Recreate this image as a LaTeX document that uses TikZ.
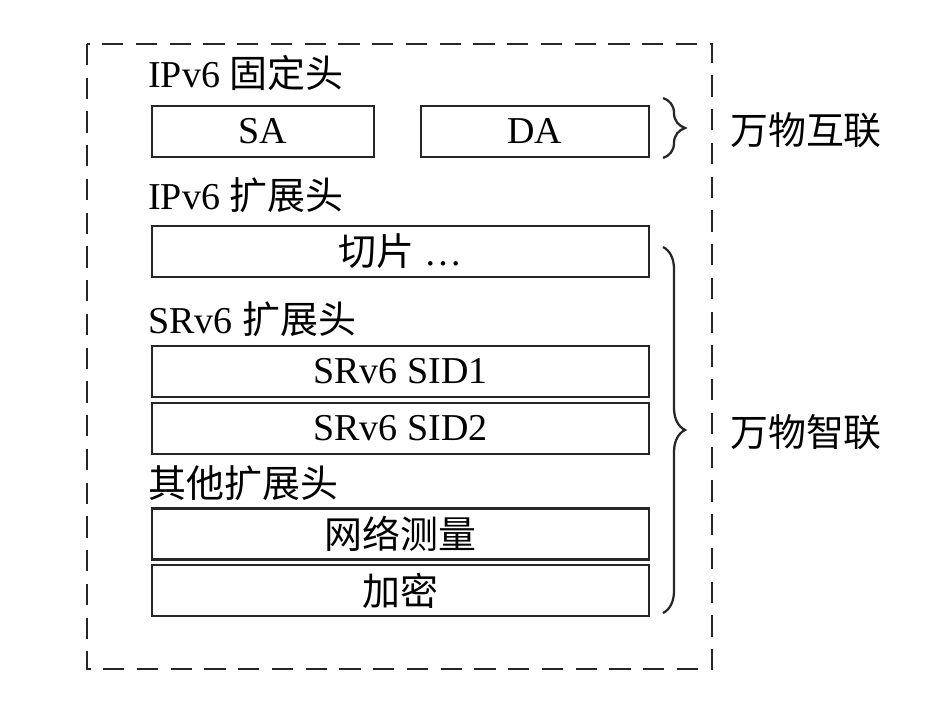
\documentclass[tikz,border=0pt]{standalone}
\usepackage{fontspec}
\setmainfont{Liberation Serif}
\newfontfamily\cjk{Noto Sans CJK SC}
\usetikzlibrary{decorations.pathreplacing}

\tikzstyle{every node}=[font={\fontsize{27}{30}\selectfont}, inner sep=0pt]
\tikzstyle{field}=[draw=black!85, line width=1.9pt, minimum height=1.275cm]
\tikzstyle{hdr}=[anchor=base west]
\tikzstyle{frame}=[draw=black!85, line width=1.7pt, dash pattern=on 15pt off 9pt]
\tikzstyle{curly}=[draw=black!85, line width=1.6pt, decorate, decoration={brace, amplitude=0.55cm}]

\begin{document}
\begin{tikzpicture}[x=0.025cm, y=-0.025cm]
    \useasboundingbox (0,0) rectangle (942,702);
    \draw [frame] (87,44) rectangle (712,669);

    % fixed header
    \node [hdr] (fixedlbl) at (148,88) {IPv6 {\cjk 固定头}};
    \node [field, minimum width=5.55cm] (sa) at (263,131.5) {SA};
    \node [field, minimum width=5.7cm] (da) at (535,131.5) {DA};

    % extension headers
    \node [hdr] (extlbl) at (148,210) {IPv6 {\cjk 扩展头}};
    \node [field, minimum width=12.425cm] (slice) at (400.5,251.5) {{\cjk 切片} \ldots};
    \node [hdr] (srlbl) at (148,333) {SRv6 {\cjk 扩展头}};
    \node [field, minimum width=12.425cm] (sid1) at (400.5,371.5) {SRv6 SID1};
    \node [field, minimum width=12.425cm] (sid2) at (400.5,428.5) {SRv6 SID2};
    \node [hdr] (otherlbl) at (148,497) {\cjk 其他扩展头};
    \node [field, minimum width=12.425cm] (measure) at (400.5,534) {\cjk 网络测量};
    \node [field, minimum width=12.425cm] (crypt) at (400.5,590.5) {\cjk 加密};

    % braces and right labels
    \coordinate (b1top) at (663,98);
    \coordinate (b1bot) at (663,158);
    \coordinate (b2top) at (663,247);
    \coordinate (b2bot) at (663,613);
    \draw [curly] (b1top) -- (b1bot);
    \draw [curly] (b2top) -- (b2bot);
    \node (interconn) at (806,130) {\cjk 万物互联};
    \node (smartconn) at (806,432) {\cjk 万物智联};
\end{tikzpicture}
\end{document}
